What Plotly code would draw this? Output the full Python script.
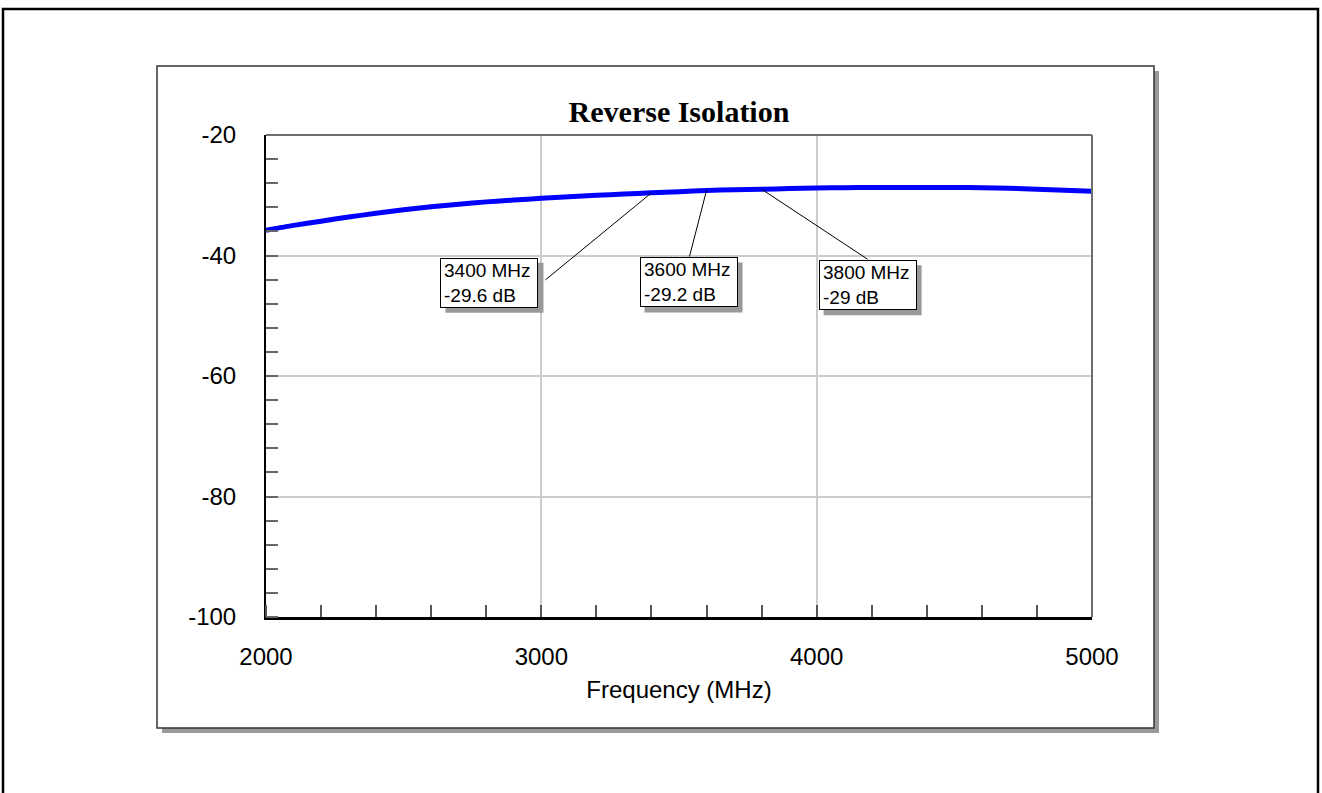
import plotly.graph_objects as go

# ---------------- data ----------------
freq_mhz = [2000, 2100, 2200, 2300, 2400, 2500, 2600, 2700, 2800, 2900,
            3000, 3100, 3200, 3300, 3400, 3500, 3600, 3700, 3800, 3900,
            4000, 4100, 4200, 4300, 4400, 4500, 4600, 4700, 4800, 4900, 5000]
isolation_db = [-35.8, -35.0, -34.3, -33.6, -33.0, -32.4, -31.9, -31.5, -31.1, -30.8,
                -30.5, -30.25, -30.0, -29.8, -29.6, -29.4, -29.2, -29.1, -29.0, -28.9,
                -28.8, -28.75, -28.7, -28.7, -28.7, -28.7, -28.75, -28.85, -29.0, -29.15, -29.35]

marker_freqs = [3400, 3600, 3800]
marker_vals = [-29.6, -29.2, -29.0]

x_ticks = [2000, 3000, 4000, 5000]
y_ticks = [-20, -40, -60, -80, -100]

title_text = "Reverse Isolation"
x_title = "Frequency (MHz)"

# ---------------- layout geometry (pixels) ----------------
W, H = 1322, 793
L, R, T, B = 266, 1092, 135, 617


def px_x(p):
    return (p - L) / (R - L)


def px_y(p):
    return (B - p) / (B - T)


fig = go.Figure()
fig.add_trace(go.Scatter(
    x=freq_mhz, y=isolation_db, mode="lines",
    line=dict(color="#0000ff", width=5, shape="spline", smoothing=0.6),
    hoverinfo="x+y", showlegend=False,
))

shapes = []
# outer frame
shapes.append(dict(type="rect", xref="paper", yref="paper",
                   x0=px_x(3), x1=px_x(1318), y0=px_y(9), y1=px_y(805),
                   line=dict(color="black", width=2.5), layer="below"))
# inner panel shadow
shapes.append(dict(type="rect", xref="paper", yref="paper",
                   x0=px_x(162), x1=px_x(1159), y0=px_y(71), y1=px_y(733),
                   fillcolor="#999999", line=dict(width=0), layer="below"))
# inner panel
shapes.append(dict(type="rect", xref="paper", yref="paper",
                   x0=px_x(157), x1=px_x(1154), y0=px_y(66), y1=px_y(728),
                   fillcolor="white", line=dict(color="#333333", width=1.5), layer="below"))
# plot area top and right edges (gray)
shapes.append(dict(type="line", xref="paper", yref="paper", x0=0, x1=1, y0=1, y1=1,
                   line=dict(color="#6e6e6e", width=2)))
shapes.append(dict(type="line", xref="paper", yref="paper", x0=1, x1=1, y0=0, y1=1,
                   line=dict(color="#6e6e6e", width=2)))

# marker call-outs: connector offsets (px, y up) and box offsets (px, y up)
connector_offsets = [(-106, -87), (-17, -66), (106, -70)]
box_offsets = [(-211, -65), (-67, -67), (57, -71)]
BOX_W, BOX_H, PAD, SH = 90, 42, 3, 5
outer_w = BOX_W + 2 * PAD + 2
outer_h = BOX_H + 2 * PAD + 2

annotations = []
for f, v, (cx, cy), (bx, by) in zip(marker_freqs, marker_vals, connector_offsets, box_offsets):
    # box shadow
    shapes.append(dict(type="rect", xref="x", yref="y",
                       xsizemode="pixel", ysizemode="pixel",
                       xanchor=f, yanchor=v,
                       x0=bx + SH, x1=bx + SH + outer_w,
                       y0=by - SH, y1=by - SH - outer_h,
                       fillcolor="#999999", line=dict(width=0)))
    # connector
    shapes.append(dict(type="line", xref="x", yref="y",
                       xsizemode="pixel", ysizemode="pixel",
                       xanchor=f, yanchor=v, x0=0, y0=0, x1=cx, y1=cy,
                       line=dict(color="black", width=1)))
    annotations.append(dict(text=f"{f} MHz<br>{v:g} dB", x=f, y=v, xref="x", yref="y",
                            xanchor="left", yanchor="top", xshift=bx, yshift=by,
                            showarrow=False, align="left", valign="middle",
                            width=BOX_W, height=BOX_H, borderpad=PAD, borderwidth=1,
                            font=dict(family="Liberation Sans, Arial", size=19, color="black"),
                            bgcolor="white", bordercolor="black"))

fig.update_layout(
    width=W, height=H,
    margin=dict(l=L, r=W - R, t=T, b=H - B, pad=0),
    paper_bgcolor="white", plot_bgcolor="rgba(0,0,0,0)",
    font=dict(family="Liberation Sans, Arial", size=24, color="black"),
    title=dict(text=f"<b>{title_text}</b>", x=0.5, xref="paper", xanchor="center",
               y=1 - 111 / H, yref="container", yanchor="middle",
               font=dict(family="Liberation Serif, Times New Roman", size=30, color="black")),
    shapes=shapes,
    annotations=annotations,
    xaxis=dict(range=[2000, 5000], tickvals=x_ticks, ticktext=[str(t) for t in x_ticks],
               ticks="", showgrid=True, gridcolor="#cccccc", gridwidth=1.5,
               showline=True, linecolor="black", linewidth=2.5, zeroline=False,
               ticklabelstandoff=16,
               minor=dict(dtick=200, ticks="inside", ticklen=12, tickcolor="#555555",
                          tickwidth=2, showgrid=False),
               title=dict(text=x_title, standoff=13, font=dict(size=24)),
               fixedrange=True),
    yaxis=dict(range=[-100, -20], tickvals=y_ticks, ticktext=[str(t) for t in y_ticks],
               ticks="", showgrid=True, gridcolor="#cccccc", gridwidth=1.5,
               showline=True, linecolor="black", linewidth=2, zeroline=False,
               ticklabelstandoff=23,
               minor=dict(dtick=4, ticks="inside", ticklen=12, tickcolor="#666666",
                          tickwidth=2, showgrid=False),
               fixedrange=True),
)

fig.write_html("out.html")
